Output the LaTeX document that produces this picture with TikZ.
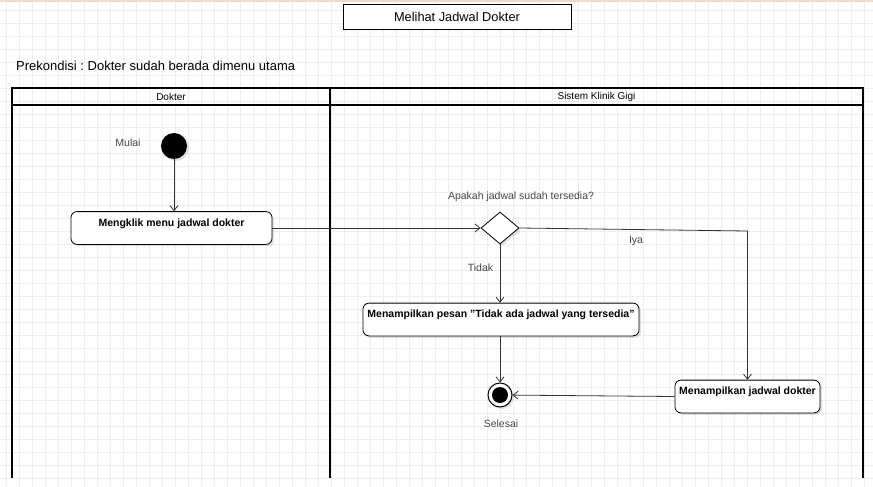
\documentclass[tikz,border=0pt]{standalone}
\usepackage{fontspec}
\setmainfont{Liberation Sans}
\frenchspacing
\usetikzlibrary{shapes.geometric}
\usetikzlibrary{positioning}
\usetikzlibrary{arrows.meta}
\usetikzlibrary{shadows}
\definecolor{garisatas}{RGB}{242,218,200}
\definecolor{kisi}{RGB}{238,238,238}
\definecolor{abu}{RGB}{70,70,70}
\tikzset{
    gridline/.style = {draw=kisi, line width=0.6pt},
    topline/.style = {draw=garisatas, line width=2pt},
    bayang/.style = {drop shadow={shadow xshift=2pt, shadow yshift=-2pt, opacity=0.12, fill=black}},
    judul/.style = {rectangle, draw=black, line width=0.8pt, fill=white, minimum width=228pt, minimum height=25pt, inner sep=0pt, font=\fontsize{12.8}{14}\selectfont},
    teks/.style = {inner sep=0pt, font=\fontsize{13}{15}\selectfont},
    lanehead/.style = {rectangle, draw=black, line width=1.6pt, outer sep=0pt, minimum height=17pt, inner sep=0pt, font=\fontsize{10}{12}\selectfont},
    lane/.style = {draw=black, line width=1.6pt},
    awal/.style = {circle, fill=black, minimum size=26pt, inner sep=0pt, bayang},
    akhir/.style = {circle, draw=black, line width=1pt, fill=white, minimum size=24pt, inner sep=0pt, bayang},
    akhirisi/.style = {circle, fill=black, minimum size=16pt, inner sep=0pt},
    aksi/.style = {rectangle, rounded corners=6pt, draw=black, line width=0.8pt, fill=white, inner xsep=2pt, inner ysep=0pt, text height=14.8pt, text depth=18pt, font=\bfseries\fontsize{10.5}{12}\selectfont, bayang},
    keputusan/.style = {diamond, draw=black, line width=0.8pt, fill=white, minimum width=38pt, minimum height=32pt, inner sep=0pt, bayang},
    ket/.style = {inner sep=0pt, text=abu, font=\fontsize{10.5}{12}\selectfont},
    alur/.style = {-{Straight Barb[length=5pt,width=8pt]}, draw=black!80, line width=0.8pt},
}

\begin{document}
\begin{tikzpicture}[x=1pt,y=-1pt]
\useasboundingbox (0,0) rectangle (873,487);
% latar kisi
\foreach \gx in {6,19,...,873} \draw[gridline] (\gx,0) -- (\gx,487);
\foreach \gy in {10,23,...,487} \draw[gridline] (0,\gy) -- (873,\gy);
\draw[topline] (0,0.8) -- (873,0.8);
%
\node[judul] at (457,16.5) (judul) {Melihat Jadwal Dokter};
\node[teks, anchor=west] at (16,66) (prekondisi) {Prekondisi : Dokter sudah berada dimenu utama};
%
\node[lanehead, minimum width=318pt] at (171,96.5) (hdokter) {Dokter};
\node[lanehead, minimum width=533pt] at (596.5,96.5) (hsistem) {Sistem Klinik Gigi};
\draw[lane] (hdokter.south west) -- ++(0,373);
\draw[lane] (hdokter.south east) -- ++(0,373);
\draw[lane] (hsistem.south east) -- ++(0,373);
%
\node[awal] at (174,146) (mulai) {};
\node[aksi, minimum width=201pt] at (171.5,228) (klik) {Mengklik menu jadwal dokter};
\node[keputusan] at (500,228) (cek) {};
\node[aksi, minimum width=276pt] at (501,319.5) (pesan) {Menampilkan pesan \symbol{34}Tidak ada jadwal yang tersedia\symbol{34}};
\node[aksi, minimum width=145pt] at (747.5,396.5) (tampil) {Menampilkan jadwal dokter};
\node[akhir] at (500,395) (selesai) {};
\node[akhirisi] at (selesai) (selesaiisi) {};
\coordinate (belok) at (747.5,231);
%
\node[ket] at (128,143) (lmulai) {Mulai};
\node[ket] at (521,197) (ltanya) {Apakah jadwal sudah tersedia?};
\node[ket] at (636,241) (liya) {Iya};
\node[ket] at (480.5,267.5) (ltidak) {Tidak};
\node[ket] at (501,423.5) (lselesai) {Selesai};
%
\draw[alur] (mulai) -- (mulai |- klik.north);
\draw[alur] (klik) -- (cek);
\draw[alur] (cek.east) -- (belok) -- (tampil);
\draw[alur] (cek.south) -- (cek.south |- pesan.north);
\draw[alur] (pesan.south -| selesai) -- (selesai);
\draw[alur] (tampil.west) -- (selesai);

\end{tikzpicture}
\end{document}
